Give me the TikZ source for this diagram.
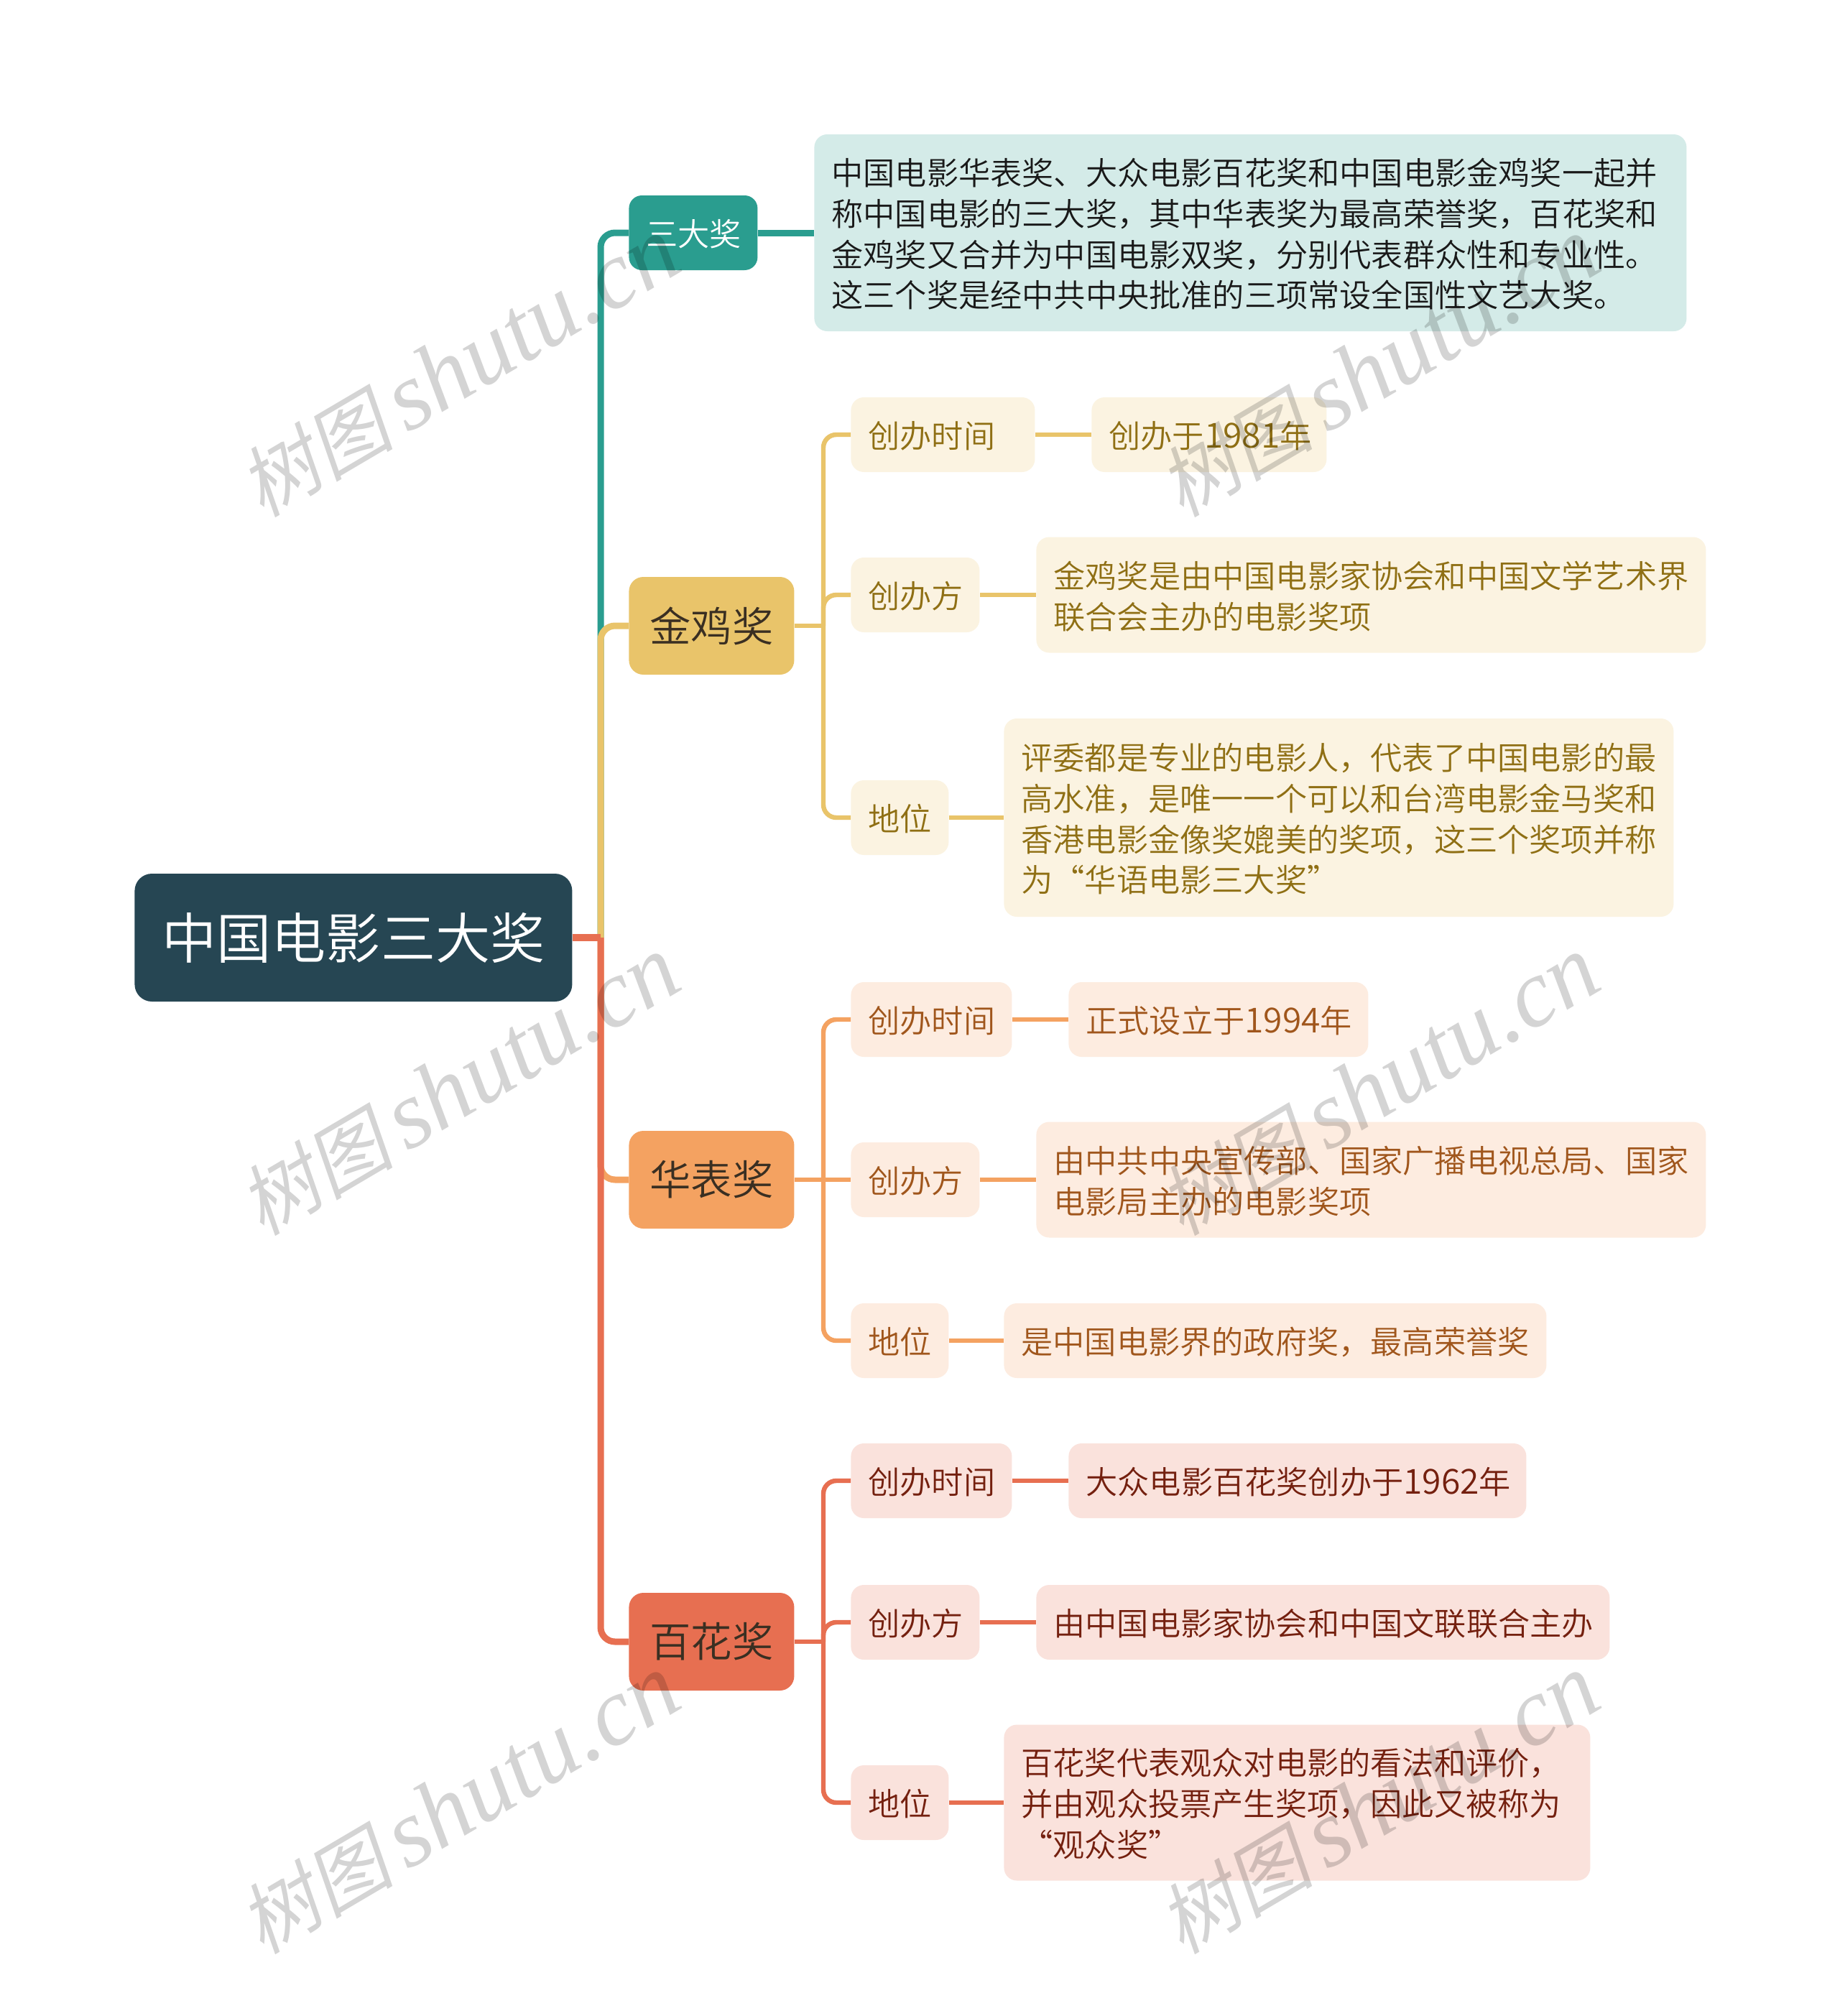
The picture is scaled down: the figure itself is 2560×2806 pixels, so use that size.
\documentclass[tikz,border=0pt]{standalone}
\usepackage{fontspec}
\setmainfont{Noto Sans CJK SC}[UprightFont=* DemiLight]
\newfontfamily\wmcjk[FakeSlant=0.2]{Noto Sans CJK SC}
\newfontfamily\wmlat{Liberation Serif}[ItalicFont=* Italic]
\definecolor{rootc}{HTML}{264653}
\definecolor{teal}{HTML}{2A9D8F}
\definecolor{teall}{HTML}{D4EBE8}
\definecolor{yel}{HTML}{E9C46A}
\definecolor{yell}{HTML}{FBF3E1}
\definecolor{yelt}{HTML}{8F6F14}
\definecolor{org}{HTML}{F4A261}
\definecolor{orgl}{HTML}{FDECE0}
\definecolor{orgt}{HTML}{A0561C}
\definecolor{redc}{HTML}{E76F51}
\definecolor{redl}{HTML}{FAE2DC}
\definecolor{redt}{HTML}{74200F}
\definecolor{lvl}{HTML}{3A2F22}
\newcommand{\dg}[1]{{\fontsize{24}{28.4}\selectfont #1}}
\tikzset{
  box/.style={rounded corners=9pt,inner sep=0pt,anchor=west,align=left,
    font=\fontsize{22.1}{28.4}\selectfont},
  tw/.style={minimum width=#1pt,inner xsep=12pt,text width=#1pt-24pt,execute at end node={\par\kern-1.8pt}},
  rootbox/.style={box,fill=rootc,text=white,minimum width=304.5pt,minimum height=89pt,rounded corners=12pt,
    font=\fontsize{38.1}{44}\selectfont},
  lone/.style={box,minimum width=115pt,minimum height=68pt,rounded corners=10pt,text=lvl,
    font=\fontsize{28.7}{34}\selectfont},
  ylw/.style={box,fill=yell,text=yelt},
  orng/.style={box,fill=orgl,text=orgt},
  rd/.style={box,fill=redl,text=redt},
  trunk/.style={line width=4.5pt,rounded corners=10pt},
  twig/.style={line width=3.2pt,rounded corners=9pt},
  wm/.style={text=black,opacity=.17,rotate=30.5,inner sep=0pt,anchor=east},
}
\newcommand{\wmtext}{{\wmcjk\fontsize{54}{60}\selectfont 树图}\hspace{9pt}{\wmlat\itshape\fontsize{67}{60}\selectfont shutu.cn}}
\begin{document}
\begin{tikzpicture}[x=0.5pt,y=-0.5pt]
\fill[white] (0,0) rectangle (2560,2806);
\useasboundingbox (0,0) rectangle (2560,2806);

% nodes
\node[rootbox] (root) at (187,1305) {中国电影三大奖};
\node[box,tw=89.5,fill=teal,text=white,minimum height=52pt] (sd) at (875,324) {三大奖};
\node[lone,fill=yel] (jj) at (875,871) {金鸡奖};
\node[lone,fill=org] (hb) at (875,1642) {华表奖};
\node[lone,fill=redc] (bh) at (875,2285) {百花奖};

\node[box,tw=607,fill=teall,text=black!90,minimum height=137pt] (sdd) at (1133,324) {中国电影华表奖、大众电影百花奖和中国电影金鸡奖一起并\\称中国电影的三大奖，其中华表奖为最高荣誉奖，百花奖和\\金鸡奖又合并为中国电影双奖，分别代表群众性和专业性。\\这三个奖是经中共中央批准的三项常设全国性文艺大奖。};

% jinji
\node[ylw,tw=128,minimum height=52pt] (j1) at (1184,605) {创办时间};
\node[ylw,tw=163.5,minimum height=52pt] (j1a) at (1519,605) {创办于\dg{1981}年};
\node[ylw,tw=89.5,minimum height=52pt] (j2) at (1184,828) {创办方};
\node[ylw,tw=466,minimum height=80.5pt] (j2a) at (1442,828) {金鸡奖是由中国电影家协会和中国文学艺术界\\联合会主办的电影奖项};
\node[ylw,tw=68,minimum height=52pt] (j3) at (1184,1138) {地位};
\node[ylw,tw=466,minimum height=138pt] (j3a) at (1397,1138) {评委都是专业的电影人，代表了中国电影的最\\高水准，是唯一一个可以和台湾电影金马奖和\\香港电影金像奖媲美的奖项，这三个奖项并称\\为“华语电影三大奖”};

% huabiao
\node[orng,tw=112,minimum height=52pt] (h1) at (1184,1419) {创办时间};
\node[orng,tw=208.5,minimum height=52pt] (h1a) at (1487,1419) {正式设立于\dg{1994}年};
\node[orng,tw=89.5,minimum height=52pt] (h2) at (1184,1642) {创办方};
\node[orng,tw=466,minimum height=80.5pt] (h2a) at (1442,1642) {由中共中央宣传部、国家广播电视总局、国家\\电影局主办的电影奖项};
\node[orng,tw=68,minimum height=52pt] (h3) at (1184,1866) {地位};
\node[orng,tw=377.5,minimum height=52pt] (h3a) at (1397,1866) {是中国电影界的政府奖，最高荣誉奖};

% baihua
\node[rd,tw=112,minimum height=52pt] (b1) at (1184,2061) {创办时间};
\node[rd,tw=318.5,minimum height=52pt] (b1a) at (1487,2061) {大众电影百花奖创办于\dg{1962}年};
\node[rd,tw=89.5,minimum height=52pt] (b2) at (1184,2258) {创办方};
\node[rd,tw=399,minimum height=52pt] (b2a) at (1442,2258) {由中国电影家协会和中国文联联合主办};
\node[rd,tw=68,minimum height=52pt] (b3) at (1184,2509) {地位};
\node[rd,tw=408,minimum height=108.5pt] (b3a) at (1397,2509) {百花奖代表观众对电影的看法和评价，\\并由观众投票产生奖项，因此又被称为\\“观众奖”};

% connectors
\coordinate (tr) at (836,1305);
\draw[trunk,teal] (tr) |- (sd.west);
\draw[trunk,org] (tr) |- (hb.west);
\draw[trunk,yel] (tr) |- (jj.west);
\draw[trunk,redc] (tr) |- (bh.west);
\draw[line width=5pt,redc] (root.east) -- (tr);
\draw[line width=4.5pt,teal] (sd.east) -- (sdd.west);

\coordinate (tj) at (1146,871);
\coordinate (th) at (1146,1642);
\coordinate (tb) at (1146,2285);
\draw[twig,yel] (jj.east) -- (tj);
\draw[twig,yel] (tj) |- (j1.west);
\draw[twig,yel] (tj) |- (j2.west);
\draw[twig,yel] (tj) |- (j3.west);
\draw[twig,yel] (j1.east) -- (j1a.west);
\draw[twig,yel] (j2.east) -- (j2a.west);
\draw[twig,yel] (j3.east) -- (j3a.west);
\draw[twig,org] (hb.east) -- (h2.west);
\draw[twig,org] (th) |- (h1.west);
\draw[twig,org] (th) |- (h3.west);
\draw[twig,org] (h1.east) -- (h1a.west);
\draw[twig,org] (h2.east) -- (h2a.west);
\draw[twig,org] (h3.east) -- (h3a.west);
\draw[twig,redc] (bh.east) -- (tb);
\draw[twig,redc] (tb) |- (b1.west);
\draw[twig,redc] (tb) |- (b2.west);
\draw[twig,redc] (tb) |- (b3.west);
\draw[twig,redc] (b1.east) -- (b1a.west);
\draw[twig,redc] (b2.east) -- (b2a.west);
\draw[twig,redc] (b3.east) -- (b3a.west);

% watermark
\node[wm] (w1) at (934,338) {\wmtext};
\node[wm] (w2) at (2214,338) {\wmtext};
\node[wm] (w3) at (934,1338) {\wmtext};
\node[wm] (w4) at (2214,1338) {\wmtext};
\node[wm] (w5) at (934,2338) {\wmtext};
\node[wm] (w6) at (2214,2338) {\wmtext};
\end{tikzpicture}
\end{document}
